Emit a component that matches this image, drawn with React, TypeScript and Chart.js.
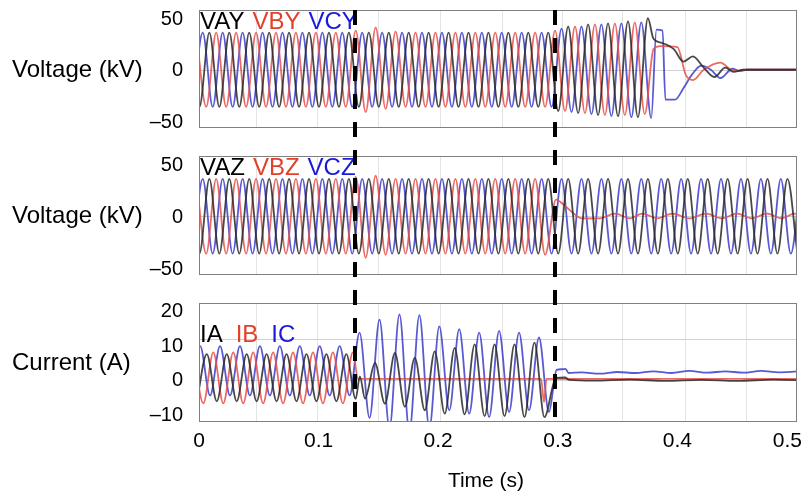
import React, { useEffect, useRef } from "react";
import { Chart, registerables } from "chart.js";
Chart.register(...registerables);

// ---------- data ----------
const FREQ_HZ = 60;
const HALF_PERIOD = 1 / (2 * FREQ_HZ); // spacing between successive extrema

const X_MIN = 0;
const X_MAX = 0.5;
const X_TICKS = [0, 0.1, 0.2, 0.3, 0.4, 0.5];
const X_GRID = [0.048, 0.099, 0.15, 0.2015, 0.253, 0.3035, 0.354, 0.406, 0.457];
const EVENT_TIMES = [0.1305, 0.2977];

const V_RANGE = [-56.5, 58];
const V_TICKS = [-50, 0, 50];
const V_GRID = [0];
const I_RANGE = [-12.2, 22.3];
const I_TICKS = [-10, 0, 10, 20];
const I_GRID = [0, 11.9];

// Panel 1 : VAY / VBY / VCY  (extrema values, first extremum time t0)
const VAY_T0 = -0.008;
const VAY_PK = [36,-36,36,-36,36,-36,36,-36,36,-36,36,-36,36,-36,36,-36,36,-36,36,-36,36,-36,36,-36,36,-36,36,-36,36,-36,36,-36,36,-36,36,-36,36,-40,42,-42,44,-44,45,-45,47,-46,50];
const VAY_TAIL = [[0.38,30],[0.387,26],[0.397,20],[0.405,8],[0.413,13],[0.422,2],[0.431,-7],[0.44,2],[0.447,-2],[0.455,0],[0.51,0]];
const VBY_T0 = -0.0023;
const VBY_PK = [36,-36,36,-36,36,-36,36,-36,36,-36,36,-36,36,-36,36,-36,38,-41,41,-38,37,-36,36,-36,36,-36,36,-36,36,-36,36,-36,36,-36,36,-36,38,-40,42,-42,44,-44,45,-44,46,-43];
const VBY_TAIL = [[0.38,20],[0.386,23],[0.4,22],[0.407,-5],[0.413,-10],[0.422,0],[0.436,7],[0.445,0],[0.452,-1],[0.458,0],[0.51,0]];
const VCY_T0 = -0.0052;
const VCY_PK = [-36,36,-36,36,-36,36,-36,36,-36,36,-36,36,-36,36,-36,36,-36,36,-36,36,-36,36,-36,36,-36,36,-36,36,-36,36,-36,36,-36,36,-36,36,-36,40,-41,42,-43,44,-45,45,-46,46,-47];
const VCY_TAIL = [[0.3825,39],[0.3875,38],[0.39,-29],[0.398,-29],[0.405,-18],[0.412,-5],[0.42,4],[0.428,0],[0.436,-8],[0.446,1],[0.452,-1],[0.458,0],[0.51,0]];

// Panel 2 : VAZ / VBZ / VCZ
const VAZ_T0 = -0.008;
const VAZ_PK = [36,-36,36,-36,36,-36,36,-36,36,-36,36,-36,36,-36,36,-36,36,-36,36,-36,36,-36,36,-36,36,-36,36,-36,36,-36,36,-36,36,-36,36,-36,36,-36,36,-36,36,-36,36,-36,36,-36,36,-36,36,-36,36,-36,36,-36,36,-36,36,-36,36,-36,36,-36];
const VBZ_T0 = -0.0023;
const VBZ_PK = [36,-36,36,-36,36,-36,36,-36,36,-36,36,-36,36,-36,36,-36,38,-40,39,-37,36,-36,36,-36,36,-36,36,-36,36,-36,36,-36,36,-36,36,-37];
const VBZ_TAIL = [[0.2985,16],[0.305,11],[0.313,3],[0.32,-2],[0.335,-2],[0.348,2.5],[0.36,-2],[0.371,2.5],[0.383,-2],[0.396,2.5],[0.41,-2],[0.424,2.5],[0.437,-2],[0.45,2.5],[0.462,-2],[0.475,2.5],[0.487,-2],[0.498,2.5],[0.51,0]];
const VCZ_T0 = -0.0052;
const VCZ_PK = [-36,36,-36,36,-36,36,-36,36,-36,36,-36,36,-36,36,-36,36,-36,36,-36,36,-36,36,-36,36,-36,36,-36,36,-36,36,-36,36,-36,36,-36,36,-36,36,-36,36,-36,36,-36,36,-36,36,-36,36,-36,36,-36,36,-36,36,-36,36,-36,36,-36,36,-36,36];

// Panel 3 : IA / IB / IC
const IA_T0 = -0.0018;
const IA_PK = [-6.2,7.5,-6.2,7.5,-6.2,7.5,-6.2,7.5,-6.2,7.5,-6.2,7.5,-6.2,7.5,-6.2,7.5];
const IA_MID = [[0.131,-5.5],[0.1345,1]];
const IA2_T0 = 0.1388;
const IA2_PK = [-5.4,4.9,-6.9,7.8,-7.8,6.4,-8.8,8.3,-9.8,9.3,-10,10.3,-10.5,10.3,-10.5,10.3,-10.8,10.8,-10.8];
const IA_TAIL = [[0.2985,0.6],[0.306,0.7],[0.3095,0],[0.33,-0.2],[0.36,0.1],[0.39,-0.3],[0.42,0],[0.45,-0.3],[0.48,0.1],[0.51,-0.2]];
const IB_T0 = -0.0047;
const IB_PK = [8,-6.8,8,-6.8,8,-6.8,8,-6.8,8,-6.8,8,-6.8,8,-6.8,8,-6.8,8];
const IB_TAIL = [[0.133,0.3],[0.286,0.3],[0.2885,-6.4],[0.2905,0.3],[0.51,0.3]];
const IC_T0 = -0.0074;
const IC_PK = [-4.5,9.8,-4.5,9.8,-4.5,9.8,-4.5,9.8,-4.5,9.8,-4.5,9.8,-4.5,9.8,-4.5,9.8,-4.5,13.7,-11,17.5,-14,19,-15,18.8,-14,15.5,-8.8,14.7,-9.8,13.7,-10.8,14.2,-9.3,13.7,-8.8,12.3,-9.3];
const IC_TAIL = [[0.299,2.9],[0.303,3.1],[0.3065,3.2],[0.309,2],[0.32,2.2],[0.335,1.8],[0.35,2.3],[0.365,2],[0.38,2.5],[0.395,2],[0.41,2.6],[0.425,2.1],[0.44,2.5],[0.455,2.1],[0.47,2.6],[0.485,2.2],[0.51,2.7]];

// ---------- helpers ----------
type P = { x: number; y: number };
const wave = (t0: number, vals: number[]): P[] => vals.map((y, i) => ({ x: t0 + i * HALF_PERIOD, y }));
const pts = (list: number[][]): P[] => list.map(([x, y]) => ({ x, y }));

const FONT = '"Liberation Sans", Arial, Helvetica, sans-serif';
const C_BLACK = "rgba(40,40,40,0.85)";
const C_RED = "rgba(232,80,72,0.85)";
const C_BLUE = "rgba(60,60,205,0.85)";
const T_BLACK = "#000000";
const T_RED = "#e2402a";
const T_BLUE = "#1a1ad8";

const PANELS = [
  {
    height: 142, gTop: 0, padTop: 10, padBottom: 14,
    range: V_RANGE, ticks: V_TICKS, grid: V_GRID, title: "Voltage (kV)",
    legend: [["VAY", T_BLACK], ["VBY", T_RED], ["VCY", T_BLUE]], legendGap: 8, legendDy: 19,
    series: [
      { label: "VAY", color: C_BLACK, data: [...wave(VAY_T0, VAY_PK), ...pts(VAY_TAIL)] },
      { label: "VBY", color: C_RED, data: [...wave(VBY_T0, VBY_PK), ...pts(VBY_TAIL)] },
      { label: "VCY", color: C_BLUE, data: [...wave(VCY_T0, VCY_PK), ...pts(VCY_TAIL)] },
    ],
    xLabels: false,
  },
  {
    height: 147, gTop: 142, padTop: 14, padBottom: 14,
    range: V_RANGE, ticks: V_TICKS, grid: V_GRID, title: "Voltage (kV)",
    legend: [["VAZ", T_BLACK], ["VBZ", T_RED], ["VCZ", T_BLUE]], legendGap: 8, legendDy: 19,
    series: [
      { label: "VAZ", color: C_BLACK, data: wave(VAZ_T0, VAZ_PK) },
      { label: "VBZ", color: C_RED, data: [...wave(VBZ_T0, VBZ_PK), ...pts(VBZ_TAIL)] },
      { label: "VCZ", color: C_BLUE, data: wave(VCZ_T0, VCZ_PK) },
    ],
    xLabels: false,
  },
  {
    height: 211, gTop: 289, padTop: 14, padBottom: 78,
    range: I_RANGE, ticks: I_TICKS, grid: I_GRID, title: "Current (A)",
    legend: [["IA", T_BLACK], ["IB", T_RED], ["IC", T_BLUE]], legendGap: 13, legendDy: 39,
    series: [
      { label: "IA", color: C_BLACK, data: [...wave(IA_T0, IA_PK), ...pts(IA_MID), ...wave(IA2_T0, IA2_PK), ...pts(IA_TAIL)] },
      { label: "IB", color: C_RED, data: [...wave(IB_T0, IB_PK), ...pts(IB_TAIL)] },
      { label: "IC", color: C_BLUE, data: [...wave(IC_T0, IC_PK), ...pts(IC_TAIL)] },
    ],
    xLabels: true,
  },
];

const DASH_TOP = 10;
const DASH_BOTTOM = 422;

function fmt(v: number) {
  return v < 0 ? "\u2013" + Math.abs(v) : String(v);
}

function makeDeco(p: any) {
  return {
    id: "deco",
    beforeDatasetsDraw(chart: any) {
      const { ctx, chartArea: a, scales } = chart;
      const x = scales.x, y = scales.y;
      ctx.save();
      ctx.lineWidth = 1;
      ctx.strokeStyle = "#e3e3e3";
      for (const v of X_GRID) {
        const px = Math.round(x.getPixelForValue(v)) + 0.5;
        ctx.beginPath(); ctx.moveTo(px, a.top); ctx.lineTo(px, a.bottom); ctx.stroke();
      }
      ctx.strokeStyle = "#d2d2d2";
      for (const v of p.grid) {
        const py = Math.round(y.getPixelForValue(v)) + 0.5;
        ctx.beginPath(); ctx.moveTo(a.left, py); ctx.lineTo(a.right, py); ctx.stroke();
      }
      ctx.restore();
    },
    afterDraw(chart: any) {
      const { ctx, chartArea: a, scales, width, height } = chart;
      const x = scales.x, y = scales.y;
      ctx.save();
      // box
      ctx.strokeStyle = "#808080";
      ctx.lineWidth = 1;
      ctx.strokeRect(a.left + 0.5, a.top + 0.5, a.right - a.left - 1, a.bottom - a.top - 1);
      // y ticks
      ctx.fillStyle = "#000";
      ctx.font = `20px ${FONT}`;
      ctx.textAlign = "right";
      ctx.textBaseline = "middle";
      for (const v of p.ticks) {
        ctx.fillText(fmt(v), a.left - 16, y.getPixelForValue(v) + 1);
      }
      // y title
      ctx.font = `24px ${FONT}`;
      ctx.textAlign = "left";
      ctx.fillText(p.title, 12, (a.top + a.bottom) / 2 + 1);
      // legend
      ctx.font = `24px ${FONT}`;
      ctx.textBaseline = "alphabetic";
      let lx = a.left + 1;
      for (const [txt, col] of p.legend) {
        ctx.fillStyle = col;
        ctx.fillText(txt, lx, a.top + p.legendDy);
        lx += ctx.measureText(txt).width + p.legendGap;
      }
      // x labels
      if (p.xLabels) {
        ctx.fillStyle = "#000";
        ctx.font = `21px ${FONT}`;
        ctx.textAlign = "center";
        ctx.textBaseline = "middle";
        for (const v of X_TICKS) {
          const s = String(v);
          const w = ctx.measureText(s).width;
          let px = x.getPixelForValue(v);
          px = Math.min(px, width - 1 - w / 2);
          ctx.fillText(s, px, a.bottom + 19);
        }
        ctx.font = `21px ${FONT}`;
        ctx.fillText("Time (s)", (a.left + a.right) / 2 - 12, a.bottom + 59);
      }
      // dashed event lines
      const y0 = Math.max(0, DASH_TOP - p.gTop);
      const y1 = Math.min(height, DASH_BOTTOM - p.gTop);
      if (y1 > y0) {
        ctx.strokeStyle = "#000";
        ctx.lineWidth = 4;
        ctx.setLineDash([15, 13]);
        ctx.lineDashOffset = y0 + p.gTop - DASH_TOP;
        for (const t of EVENT_TIMES) {
          const px = Math.round(x.getPixelForValue(t));
          ctx.beginPath(); ctx.moveTo(px, y0); ctx.lineTo(px, y1); ctx.stroke();
        }
      }
      ctx.restore();
    },
  };
}

function makeConfig(p: any): any {
  return {
    type: "line",
    data: {
      datasets: p.series.map((s: any) => ({
        label: s.label,
        data: s.data,
        borderColor: s.color,
        borderWidth: 1.8,
        pointRadius: 0,
        fill: false,
        cubicInterpolationMode: "monotone",
      })),
    },
    options: {
      animation: false,
      responsive: false,
      maintainAspectRatio: false,
      events: [],
      layout: { padding: { left: 199, right: 6, top: p.padTop, bottom: p.padBottom } },
      plugins: { legend: { display: false }, tooltip: { enabled: false } },
      scales: {
        x: { type: "linear", min: X_MIN, max: X_MAX, display: false },
        y: { type: "linear", min: p.range[0], max: p.range[1], display: false },
      },
    },
    plugins: [makeDeco(p)],
  };
}

export default function App() {
  const refs = useRef<(HTMLCanvasElement | null)[]>([]);
  useEffect(() => {
    const charts = PANELS.map((p, i) => new Chart(refs.current[i] as HTMLCanvasElement, makeConfig(p)));
    return () => charts.forEach((c) => c.destroy());
  }, []);
  return (
    <div style={{ position: "absolute", left: 0, top: 0, width: 803, height: 500, background: "#fff" }}>
      {PANELS.map((p, i) => (
        <canvas
          key={i}
          ref={(el) => { refs.current[i] = el; }}
          width={803}
          height={p.height}
          style={{ display: "block", width: 803, height: p.height }}
        />
      ))}
    </div>
  );
}
